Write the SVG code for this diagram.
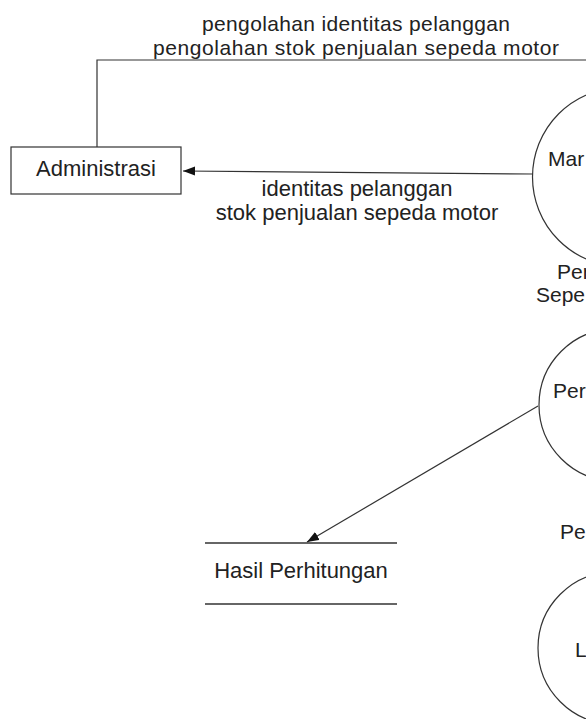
<svg xmlns="http://www.w3.org/2000/svg" width="586" height="719" viewBox="0 0 586 719">
  <style>
    .t { font-family: "Liberation Sans", Arial, sans-serif; fill: #222; }
    .lbl { font-size: 22px; }
    .top { font-size: 21px; }
    .ptx { font-size: 21px; }
    .shape { fill: #fff; stroke: #333; stroke-width: 1.2; }
    .flow { fill: none; stroke: #333; stroke-width: 1.2; }
    .store { stroke: #333; stroke-width: 1.3; }
  </style>
  <defs>
    <marker id="arrow" markerUnits="userSpaceOnUse" markerWidth="14" markerHeight="10" refX="12" refY="5" orient="auto">
      <path d="M0,0.5 L12,5 L0,9.5 Z" fill="#111"/>
    </marker>
  </defs>
  <rect width="586" height="719" fill="#fff"/>

  <g id="connectors">
    <polyline class="flow" points="97,147 97,60 590,60"/>
    <line class="flow" x1="533" y1="174" x2="183" y2="171" marker-end="url(#arrow)"/>
    <line class="flow" x1="538" y1="406" x2="307" y2="542" marker-end="url(#arrow)"/>
  </g>

  <g id="labels">
    <text class="t top" x="202" y="31" textLength="308" lengthAdjust="spacing">pengolahan identitas pelanggan</text>
    <text class="t top" x="153" y="55" textLength="406" lengthAdjust="spacing">pengolahan stok penjualan sepeda motor</text>
    <text class="t lbl" text-anchor="middle" x="357" y="196">identitas pelanggan</text>
    <text class="t lbl" text-anchor="middle" x="357" y="220">stok penjualan sepeda motor</text>
  </g>

  <g id="node-administrasi">
    <rect class="shape" x="11" y="147" width="170" height="47"/>
    <text class="t lbl" text-anchor="middle" x="96" y="176">Administrasi</text>
  </g>

  <g id="node-process-1">
    <circle class="shape" cx="622" cy="177" r="89.5"/>
    <text class="t ptx" x="548" y="166">Mar</text>
    <text class="t ptx" x="557" y="279">Per</text>
    <text class="t ptx" x="536" y="302">Sepe</text>
  </g>

  <g id="node-process-2">
    <circle class="shape" cx="615" cy="405" r="76"/>
    <text class="t ptx" x="553" y="398">Per</text>
    <text class="t ptx" x="560" y="539">Pe</text>
  </g>

  <g id="node-process-3">
    <circle class="shape" cx="614" cy="648" r="76"/>
    <text class="t ptx" x="575" y="657">L</text>
  </g>

  <g id="node-hasil-perhitungan">
    <line class="store" x1="205" y1="543" x2="397" y2="543"/>
    <line class="store" x1="205" y1="604" x2="397" y2="604" stroke-width="2"/>
    <text class="t lbl" text-anchor="middle" x="301" y="578">Hasil Perhitungan</text>
  </g>
</svg>
